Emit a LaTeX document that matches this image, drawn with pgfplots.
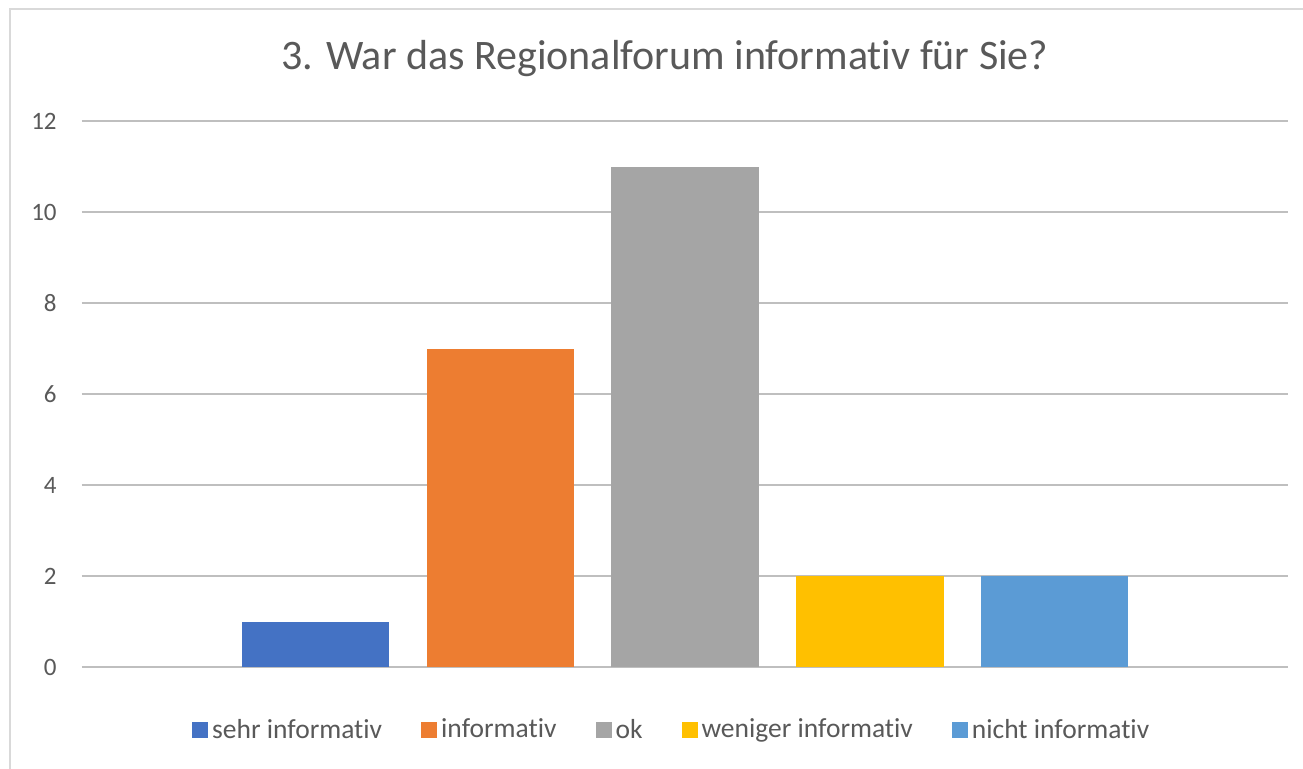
\documentclass[border=0pt]{standalone}
\usepackage{fontspec}
\setmainfont{Carlito}[RawFeature={-liga;-clig;-calt;-dlig}]
\usepackage{pgfplots}
\pgfplotsset{compat=1.18}
\definecolor{c1}{HTML}{4472C4}
\definecolor{c2}{HTML}{ED7D31}
\definecolor{c3}{HTML}{A5A5A5}
\definecolor{c4}{HTML}{FFC000}
\definecolor{c5}{HTML}{5B9BD5}
\definecolor{txt}{HTML}{595959}
\definecolor{grid}{HTML}{D9D9D9}
\pgfplotsset{sq/.style={legend image code/.code={\fill[##1] (0pt,-4pt) rectangle (8pt,4pt);}}}
\begin{document}
\begin{tikzpicture}
\path[use as bounding box] (-41pt,-50.5pt) rectangle (610.5pt,333.5pt);
\clip (-41pt,-50.5pt) rectangle (610.5pt,333.5pt);
\fill[white] (-41pt,-50.5pt) rectangle (610.5pt,333.5pt);
\draw[grid, line width=0.9pt] (-36pt,-80pt) rectangle (680pt,329pt);
\begin{axis}[
  at={(0,0)}, anchor=south west,
  scale only axis, width=603pt, height=273pt,
  ybar,
  xmin=-1.26, xmax=5.26,
  ymin=0, ymax=12,
  ytick={0,2,...,12},
  xtick=\empty,
  axis line style={draw=none},
  ymajorgrids, grid style={grid, line width=0.8pt},
  major tick length=0pt,
  tick label style={font=\fontsize{12.5}{14}\selectfont, text=txt},
  /pgf/number format/assume math mode=true,
  yticklabel style={inner sep=0pt, xshift=-12.5pt},
  every axis title shift=0pt,
  title={3. War das Regionalforum informativ für Sie?},
  title style={font=\fontsize{21}{24}\selectfont, text=txt, at={(rel axis cs:0.4834,1.0947)}, anchor=base, inner sep=0pt},
  legend columns=5,
  legend style={draw=none, fill=none, at={(rel axis cs:0.4898,-0.1154)}, anchor=center,
    font=\fontsize{13.75}{16}\selectfont, text=txt,
    /tikz/every odd column/.append style={column sep=0pt},
    /tikz/every even column/.append style={column sep=17.5pt}},
  legend cell align=left,
]
\addplot[fill=c1, draw=none, bar width=0.795, bar shift=0pt, sq] coordinates {(0,1)};
\addplot[fill=c2, draw=none, bar width=0.795, bar shift=0pt, sq] coordinates {(1,7)};
\addplot[fill=c3, draw=none, bar width=0.795, bar shift=0pt, sq] coordinates {(2,11)};
\addplot[fill=c4, draw=none, bar width=0.795, bar shift=0pt, sq] coordinates {(3,2)};
\addplot[fill=c5, draw=none, bar width=0.795, bar shift=0pt, sq] coordinates {(4,2)};
\legend{sehr informativ, informativ, ok, weniger informativ, nicht informativ}
\end{axis}
\end{tikzpicture}
\end{document}
